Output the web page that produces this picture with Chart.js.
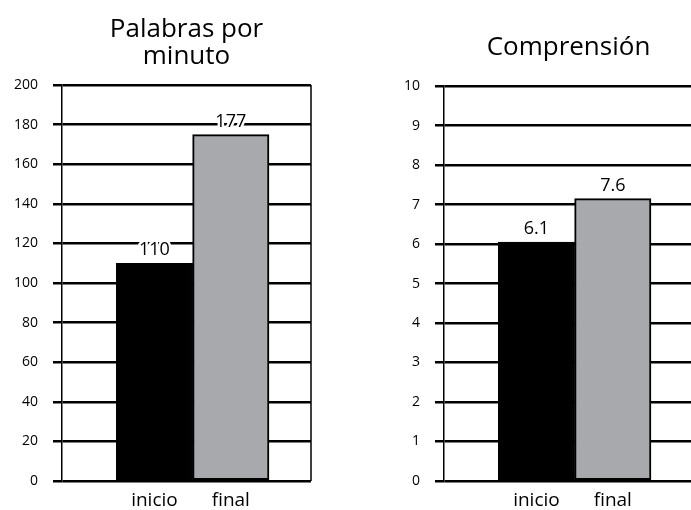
<!DOCTYPE html>
<html>
<head>
<meta charset="utf-8">
<script src="https://cdn.jsdelivr.net/npm/chart.js@4.4.1/dist/chart.umd.min.js"></script>
<style>
body { margin: 0; background: #fff; }
#wrap { position: relative; width: 691px; height: 510px; overflow: hidden; background: #fff; }
#c1 { position: absolute; left: 0; top: 0; }
#c2 { position: absolute; left: 382px; top: 0; }
</style>
</head>
<body>
<div id="wrap">
<canvas id="c1" width="313" height="521"></canvas>
<canvas id="c2" width="313" height="521"></canvas>
</div>
<script>
var categories = ['inicio', 'final'];
var wpmValues = [110, 175];
var wpmLabels = ['110', '177'];
var compValues = [6.05, 7.15];
var compLabels = ['6.1', '7.6'];
var barColors = ['#000000', '#a7a9ac'];

var FONT = "'Open Sans', sans-serif";

// value labels above the bars, with a white halo that cuts the grid lines
var valueLabels = {
  id: 'valueLabels',
  afterDatasetsDraw: function(chart) {
    var ctx = chart.ctx;
    var texts = chart.options.plugins.valueLabels.texts;
    var meta = chart.getDatasetMeta(0);
    ctx.save();
    ctx.font = '18px ' + FONT;
    ctx.textAlign = 'center';
    ctx.textBaseline = 'alphabetic';
    meta.data.forEach(function(bar, i) {
      ctx.lineWidth = 5;
      ctx.strokeStyle = '#fff';
      ctx.lineJoin = 'round';
      ctx.strokeText(texts[i], bar.x, bar.y - 8);
      ctx.fillStyle = '#000';
      ctx.fillText(texts[i], bar.x, bar.y - 8);
    });
    ctx.restore();
  }
};

// right edge of the plot frame
var rightEdge = {
  id: 'rightEdge',
  beforeDatasetsDraw: function(chart) {
    var a = chart.chartArea;
    var ctx = chart.ctx;
    ctx.save();
    ctx.strokeStyle = '#000';
    ctx.lineWidth = 1.5;
    ctx.beginPath();
    ctx.moveTo(a.right, a.top);
    ctx.lineTo(a.right, a.bottom);
    ctx.stroke();
    ctx.restore();
  }
};

function makeChart(id, values, texts, title, titlePad, yMax, yStep) {
  return new Chart(document.getElementById(id), {
    type: 'bar',
    data: {
      datasets: [{
        data: values.map(function(v, i) { return { x: i, y: v }; }),
        backgroundColor: barColors,
        borderColor: '#000',
        borderWidth: 2,
        borderSkipped: false,
        barPercentage: 1,
        categoryPercentage: 1
      }]
    },
    options: {
      responsive: false,
      animation: false,
      layout: { padding: { right: 2 } },
      plugins: {
        legend: { display: false },
        tooltip: { enabled: false },
        title: {
          display: true,
          text: title,
          color: '#000',
          fullSize: false,
          font: { family: FONT, size: 26, weight: 'normal', lineHeight: 1.04 },
          padding: titlePad
        },
        valueLabels: { texts: texts }
      },
      scales: {
        x: {
          type: 'linear',
          offset: false,
          min: -1.21,
          max: 2.05,
          grid: { display: false },
          border: { display: false },
          afterBuildTicks: function(s) { s.ticks = [{ value: 0 }, { value: 1 }]; },
          afterFit: function(s) { s.height = 40; },
          ticks: {
            color: '#000',
            padding: 0,
            font: { family: FONT, size: 19 },
            callback: function(v) { return categories[v]; }
          }
        },
        y: {
          min: 0,
          max: yMax,
          afterFit: function(s) { s.width = 62; },
          grid: { color: '#000', lineWidth: 2.5, tickLength: 9 },
          border: { display: true, color: '#000', width: 1.5 },
          ticks: {
            stepSize: yStep,
            color: '#000',
            padding: 15,
            font: { family: FONT, size: 14 }
          }
        }
      }
    },
    plugins: [valueLabels, rightEdge]
  });
}

makeChart('c1', wpmValues, wpmLabels, ['Palabras por', 'minuto'], { top: 16, bottom: 15 }, 200, 20);
makeChart('c2', compValues, compLabels, 'Comprensión', { top: 34, bottom: 25 }, 10, 1);
</script>
</body>
</html>
